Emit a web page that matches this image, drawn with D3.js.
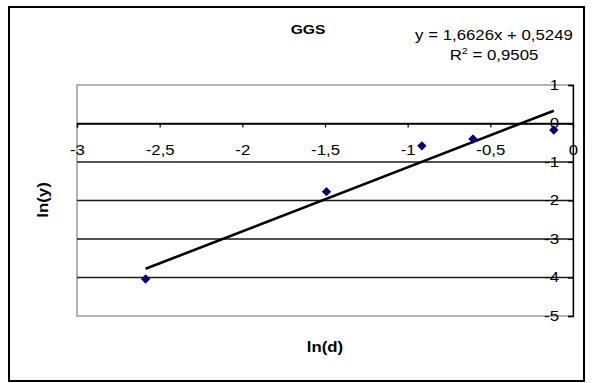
<!DOCTYPE html>
<html><head><meta charset="utf-8">
<script src="https://cdn.jsdelivr.net/npm/d3@7"></script>
<style>body{margin:0;background:#fff}svg{display:block}text{font-family:Arial,"Liberation Sans",sans-serif;fill:#000}</style>
</head><body>
<script>
const lnD = [-2.585, -1.491, -0.914, -0.605, -0.116];
const lnY = [-4.04, -1.77, -0.58, -0.40, -0.17];
const slope = 1.6626, intercept = 0.5249;
const xTicks = [-3, -2.5, -2, -1.5, -1, -0.5, 0];
const yTicks = [1, 0, -1, -2, -3, -4, -5];
const title = "GGS";
const eqText = "y = 1,6626x + 0,5249";
const r2Value = "0,9505";

const W = 594, H = 383, SX = 1.2, FS = 14;
const svg = d3.select("body").append("svg").attr("width", W).attr("height", H);
svg.append("rect").attr("x", 9).attr("y", 7).attr("width", 575).attr("height", 374)
  .attr("fill", "#fff").attr("stroke", "#000").attr("stroke-width", 2);

const x = d3.scaleLinear().domain([-3, 0]).range([77, 573]);
const y = d3.scaleLinear().domain([-5, 1]).range([316, 85]);
const fmt = v => String(v).replace(".", ",");

// plot border
svg.append("rect").attr("x", x(-3)).attr("y", y(1)).attr("width", x(0) - x(-3)).attr("height", y(-5) - y(1))
  .attr("fill", "none").attr("stroke", "#808080").attr("stroke-width", 1.2);
// gridlines
svg.append("g").selectAll("line").data(yTicks.filter(v => v < 1 && v > -5)).join("line")
  .attr("x1", x(-3)).attr("x2", x(0)).attr("y1", d => y(d)).attr("y2", d => y(d))
  .attr("stroke", "#1a1a1a").attr("stroke-width", 1.3);

// x axis at y=0
const gx = svg.append("g").attr("transform", `translate(0,${y(0)})`)
  .call(d3.axisBottom(x).tickValues(xTicks).tickFormat(fmt).tickSize(4).tickPadding(18));
gx.select(".domain").attr("stroke", "#000").attr("stroke-width", 1.3);
gx.selectAll(".tick line").attr("stroke", "#000").attr("stroke-width", 1.2);
gx.selectAll(".tick text").attr("font-size", FS).attr("transform", `scale(${SX},1)`);

// y axis at x=0 (right edge)
const gy = svg.append("g").attr("transform", `translate(${x(0)},0)`)
  .call(d3.axisLeft(y).tickValues(yTicks).tickFormat(fmt).tickSize(5).tickPadding(6));
gy.select(".domain").attr("stroke", "#000").attr("stroke-width", 1.3);
gy.selectAll(".tick line").attr("stroke", "#000").attr("stroke-width", 1.2);
gy.selectAll(".tick text").attr("font-size", FS).attr("x", -14 / SX).attr("transform", `scale(${SX},1)`);

// trendline
const ext = d3.extent(lnD);
svg.append("line").attr("x1", x(ext[0])).attr("y1", y(slope * ext[0] + intercept))
  .attr("x2", x(ext[1])).attr("y2", y(slope * ext[1] + intercept))
  .attr("stroke", "#000").attr("stroke-width", 2.6);

// markers
const sym = d3.symbol().type(d3.symbolSquare).size(44);
svg.append("g").selectAll("path").data(lnD.map((d, i) => [d, lnY[i]])).join("path")
  .attr("d", sym).attr("fill", "#000080")
  .attr("transform", d => `translate(${x(d[0])},${y(d[1])}) rotate(45)`);

// texts
svg.append("text").attr("transform", `translate(308,34) scale(${SX},1)`).attr("text-anchor", "middle")
  .attr("font-size", 13).attr("font-weight", "bold").text(title);
svg.append("text").attr("transform", `translate(494,40) scale(${SX},1)`).attr("text-anchor", "middle")
  .attr("font-size", FS).text(eqText);
const r2 = svg.append("text").attr("transform", `translate(494,60) scale(${SX},1)`).attr("text-anchor", "middle")
  .attr("font-size", FS);
r2.append("tspan").text("R");
r2.append("tspan").attr("font-size", 9).attr("dy", -6).text("2");
r2.append("tspan").attr("dy", 6).text(" = " + r2Value);

svg.append("text").attr("transform", `translate(325,352) scale(${SX},1)`).attr("text-anchor", "middle")
  .attr("font-size", FS).attr("font-weight", "bold").text("ln(d)");
svg.append("text").attr("transform", `translate(48,200) rotate(-90) scale(${SX},1)`).attr("text-anchor", "middle")
  .attr("font-size", FS).attr("font-weight", "bold").text("ln(y)");
</script>
</body></html>
